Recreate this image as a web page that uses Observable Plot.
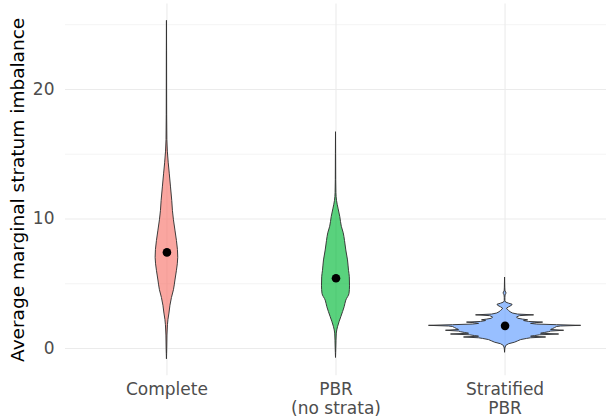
<!DOCTYPE html>
<html>
<head>
<meta charset="utf-8">
<script src="https://cdn.jsdelivr.net/npm/d3@7"></script>
<script src="https://cdn.jsdelivr.net/npm/@observablehq/plot@0.6"></script>
<style>
  html, body { margin: 0; padding: 0; background: #fff; }
</style>
</head>
<body>
<div id="chart"></div>
<script>
// ---- data ----
const categories = ["Complete", "PBR\n(no strata)", "Stratified\nPBR"];
const colors = ["#F8766D", "#00BA38", "#619CFF"];
const means = [7.42, 5.43, 1.75];
const yTicks = [0, 10, 20];
const yMinorTicks = [5, 15, 25];
const yTitle = "Average marginal stratum imbalance";

// violin profiles: value (y) and estimated density (arbitrary units)
const completeY = [-0.8, 0, 1.0, 1.8, 2.2, 2.7, 3.3, 3.9, 4.5, 5.25, 6.0, 7.0, 7.6, 8.3, 9.1, 9.9, 10.6, 11.4, 12.5, 13.5, 14.3, 15.2, 16.1, 18, 20, 23, 25.3];
const completeD = [0, 0.3, 0.5, 1, 1.5, 2.5, 3.5, 5, 7, 8.5, 10, 11.3, 11, 10, 8.5, 7, 6, 5.3, 4, 2.8, 1.8, 0.9, 0.4, 0.2, 0.15, 0.1, 0];

const pbrY = [-0.7, 0, 0.6, 1.15, 1.64, 2.42, 3.2, 3.7, 4.22, 4.8, 5.5, 6.0, 6.8, 7.57, 8.3, 8.9, 9.4, 10.14, 10.8, 11.4, 12, 13, 15, 16.7];
const pbrD = [0, 0.3, 0.5, 0.8, 2, 5.3, 8.7, 10.3, 13.5, 14, 13.8, 13, 12, 10.3, 9, 7.7, 5.8, 4.3, 2.5, 1, 0.4, 0.2, 0.1, 0];

const stratY = [-0.3, 0.0, 0.2, 0.33, 0.45, 0.55, 0.65, 0.74, 0.79, 0.85, 0.91, 0.96, 1.02, 1.08, 1.14, 1.20, 1.26, 1.31, 1.37, 1.43, 1.50, 1.58, 1.66, 1.70, 1.75, 1.80, 1.85, 1.90, 1.95, 2.0, 2.05, 2.12, 2.18, 2.23, 2.3, 2.4, 2.5, 2.56, 2.62, 2.7, 2.8, 2.9, 3.0, 3.08, 3.18, 3.3, 3.38, 3.46, 3.55, 3.65, 3.9, 4.1, 4.22, 4.32, 4.4, 4.7, 5.1, 5.48];
const stratD = [0, 0.3, 1.2, 4, 10, 13, 16, 22, 26, 41, 26, 30, 35, 54, 36, 40, 44, 46, 59, 46, 48, 50, 52, 56, 76, 52, 32, 26, 30, 38, 24, 19, 23, 18, 13, 12, 15, 29, 13, 8, 5.5, 4, 2.5, 2, 4, 7, 7.5, 4, 1, 0.3, 0.3, 0.5, 1.3, 1.3, 0.4, 0.2, 0.1, 0];

// ---- build tables ----
const profiles = [
  {y: completeY, d: completeD},
  {y: pbrY, d: pbrD},
  {y: stratY, d: stratD}
];
const rows = [];
profiles.forEach((p, i) => p.y.forEach((v, j) => rows.push({cat: categories[i], pos: i + 1, y: v, d: p.d[j]})));
const maxD = d3.max(rows, r => r.d);
const k = 0.45 / maxD; // widest violin spans 90% of a category slot
const positions = categories.map((c, i) => i + 1);
const meanRows = means.map((m, i) => ({cat: categories[i], pos: i + 1, y: m}));

const areaOpts = {
  y: "y",
  x1: r => r.pos - r.d * k,
  x2: r => r.pos + r.d * k,
  z: "cat",
  fill: "cat",
  fillOpacity: 0.65,
  stroke: "#333333",
  strokeWidth: 0.95,
  strokeLinejoin: "round"
};

const chart = Plot.plot({
  width: 608,
  height: 419,
  marginLeft: 65,
  marginRight: 2,
  marginTop: 3.5,
  marginBottom: 43.8,
  style: {fontFamily: "DejaVu Sans", background: "#fff"},
  x: {domain: [0.4, 3.6], axis: null},
  y: {domain: [-2.1, 26.6], axis: null},
  color: {domain: categories, range: colors},
  marks: [
    Plot.ruleY(yMinorTicks, {stroke: "#EBEBEB", strokeWidth: 0.6}),
    Plot.ruleY(yTicks, {stroke: "#EBEBEB", strokeWidth: 1.1}),
    Plot.ruleX(positions, {stroke: "#EBEBEB", strokeWidth: 1.1}),
    Plot.areaX(rows.filter(r => r.pos < 3), {...areaOpts, curve: "monotone-y"}),
    Plot.areaX(rows.filter(r => r.pos === 3), {...areaOpts, curve: "linear"}),
    Plot.dot(meanRows, {x: "pos", y: "y", r: 4.3, fill: "#000", stroke: null}),
    Plot.axisX(positions, {tickSize: 0, tickPadding: 6.5, tickFormat: i => categories[i - 1], fontSize: 17, lineHeight: 1.08, color: "#4D4D4D", label: null}),
    Plot.axisY(yTicks, {tickSize: 0, tickPadding: 11, fontSize: 17, color: "#4D4D4D", label: null}),
    Plot.text([yTitle], {frameAnchor: "left", dx: -47.5, rotate: -90, textAnchor: "middle", fontSize: 18.5, fill: "#000"})
  ]
});
document.getElementById("chart").appendChild(chart);
</script>
</body>
</html>
